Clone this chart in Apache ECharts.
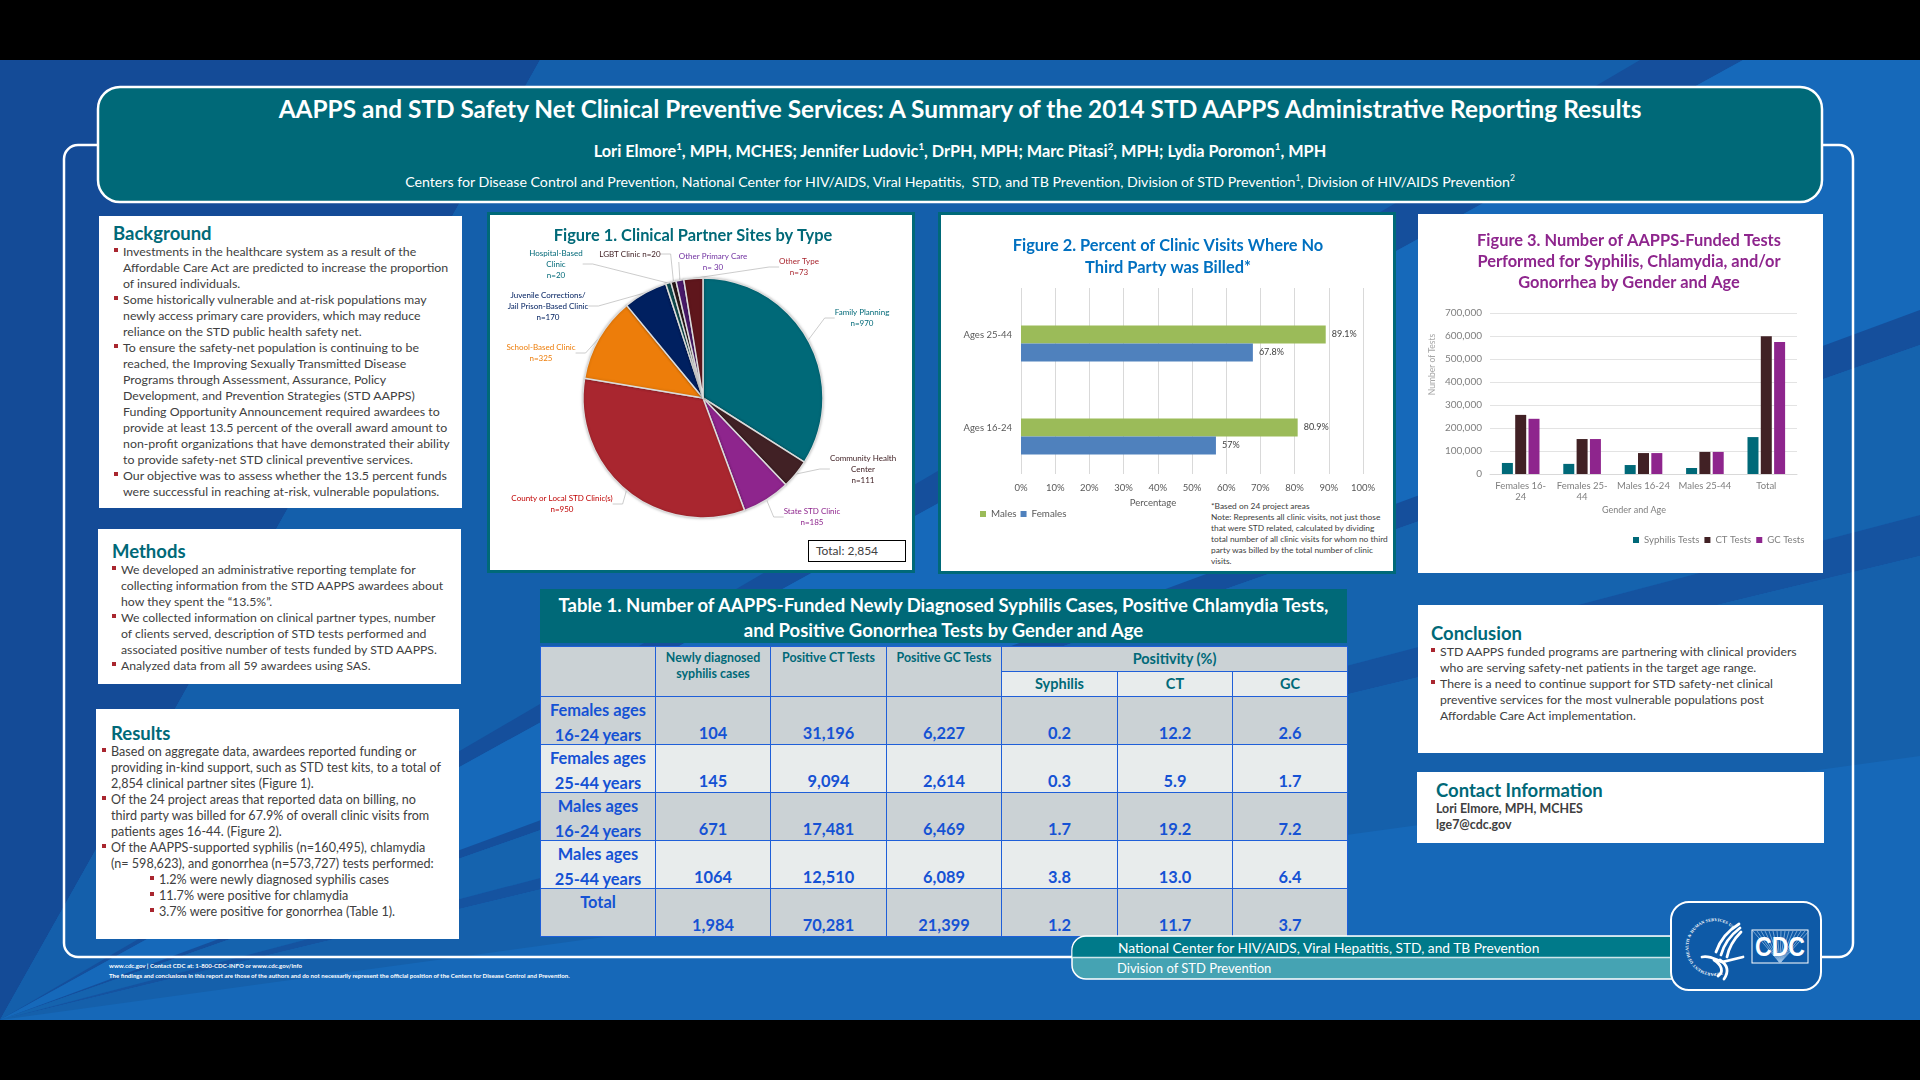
<!DOCTYPE html>
<html>
<head>
<meta charset="utf-8">
<title>AAPPS Poster</title>
<script src="https://cdn.jsdelivr.net/npm/echarts@6/dist/echarts.min.js"></script>
<style>
html,body { margin:0; padding:0; background:#000; width:1920px; height:1080px; overflow:hidden; font-family:Lato,sans-serif; }
#poster { position:absolute; left:0; top:0; width:1920px; height:1080px; }
#poster svg { position:absolute; left:0; top:0; }
.box { position:absolute; background:#fff; box-sizing:border-box; }
.fig { border:3px solid #006978; }
.txt { position:absolute; white-space:nowrap; line-height:16px; color:#404040; font-size:12.25px; transform:translateY(-50%); }
.head { position:absolute; white-space:nowrap; color:#006978; font-weight:700; font-size:18.5px; transform:translateY(-50%); }
.dot { position:absolute; width:4px; height:4px; background:#a9262f; }
.ctr { position:absolute; left:98px; width:1724px; text-align:center; color:#fff; white-space:nowrap; transform:translateY(-50%); }
sup { font-size:60%; line-height:0; }
#tableHead { position:absolute; left:540px; top:589px; width:807px; height:54px; background:#006978; color:#fff; font-weight:700; font-size:18.5px; line-height:25px; text-align:center; padding-top:4px; box-sizing:border-box; white-space:nowrap; }
#tbl { position:absolute; left:540px; top:646px; width:807px; border-collapse:collapse; table-layout:fixed; }
#tbl td { border:1px solid #1f5fd8; padding:0; text-align:center; color:#1552d4; font-weight:700; font-size:16.4px; height:47px; line-height:22px; vertical-align:bottom; overflow:hidden; }
#tbl td.hd { color:#006978; font-size:12.4px; line-height:16px; vertical-align:top; padding-top:3px; height:auto; }
#tbl td.sub { color:#006978; font-size:14.5px; line-height:24px; height:24px; vertical-align:middle; padding:0; }
#tbl td .lab { position:relative; top:1px; height:46px; line-height:24.5px; }
.band { position:absolute; color:#fff; white-space:nowrap; transform:translateY(-50%); }
#chart { position:absolute; left:0; top:0; width:1920px; height:1080px; }
</style>
</head>
<body>
<div id="poster">
	<svg width="1920" height="1080">
		<rect x="0" y="60" width="1920" height="960" fill="#1668b8"/>
		<polygon points="0,1020 0,60 540,60" fill="#144b97"/>
		<polygon points="0,1020 540,60 1743,60" fill="#145fab"/>
		<polygon points="0,1020 1640,60 1743,60" fill="#154f9c"/>
		<polygon points="0,1020 1743,60 1920,60 1920,310" fill="#1669ba"/>
		<polygon points="0,1020 1920,310 1920,345" fill="#154f9c"/>
		<polygon points="0,1020 1920,345 1920,515" fill="#1563ae"/>
		<polygon points="0,1020 1920,515 1920,556" fill="#1553a0"/>
		<polygon points="0,1020 1920,556 1920,756" fill="#1560ab"/>
		<rect x="64" y="145" width="1789" height="812" rx="14" fill="none" stroke="#fff" stroke-width="2.5"/>
		<rect x="98" y="87" width="1724" height="115" rx="22" fill="#006978" stroke="#fff" stroke-width="2.5"/>
	</svg>
	<div id="panels"></div>
	<div class="box fig" style="left:487px;top:212px;width:428px;height:361px"></div>
	<div class="box fig" style="left:938px;top:212px;width:458px;height:362px"></div>
	<div class="box" style="left:1418px;top:214px;width:405px;height:359px"></div>
	<div class="box" style="left:808px;top:540px;width:98px;height:22px;border:1.5px solid #000;font-size:12px;line-height:19px;color:#404040;padding-left:7px">Total: 2,854</div>
	<div id="figNote" style="position:absolute;left:1211px;top:501px;font-size:8.4px;line-height:11px;color:#404040;white-space:pre"></div>
	<div class="ctr" id="mainTitle" style="top:108px;font-size:24.4px;font-weight:700"></div>
	<div class="ctr" id="authors" style="top:150px;font-size:16.3px;font-weight:700"></div>
	<div class="ctr" id="affil" style="top:181px;font-size:14.2px"></div>
	<div id="tableHead"></div>
	<table id="tbl"></table>
	<svg width="1920" height="1080">
		<path d="M1685 936 H1086 a14 14 0 0 0 -14 14 V965 a14 14 0 0 0 14 14 H1685 Z" fill="#45a3b3" stroke="#fff" stroke-width="1.5"/>
		<path d="M1685 937 H1086 a13.500 13.500 0 0 0 -13.500 13.500 V957 H1685 Z" fill="#007a8a"/>
		<line x1="1072" y1="957.500" x2="1685" y2="957.500" stroke="#cfe6ea" stroke-width="1.5"/>
		<rect x="1671" y="902" width="150" height="88" rx="18" fill="#0e5aa7" stroke="#fff" stroke-width="2"/>
		<path id="seal" d="M1722 972 A26 26 0 1 1 1733 929" fill="none"/>
		<text font-family="Liberation Serif,serif" font-size="4.200" font-weight="700" fill="#fff"><textPath href="#seal" textLength="112" lengthAdjust="spacing">DEPARTMENT OF HEALTH &amp; HUMAN SERVICES USA</textPath></text>
		<g fill="none" stroke="#fff" stroke-width="2.800" stroke-linecap="round">
			<path d="M1739 924 C1729 930 1720 940 1716 952"/>
			<path d="M1740 928 C1732 934 1724 944 1721 955"/>
			<path d="M1741 932 C1735 938 1729 947 1727 957"/>
			<path d="M1702 957 C1710 955 1716 960 1722 962 L1743 957"/>
			<path d="M1714 960 C1722 965 1724 972 1718 976"/>
			<path d="M1720 960 C1728 965 1729 972 1724 979"/>
		</g>
		<rect x="1752" y="930" width="56" height="33" fill="#0e5aa7" stroke="#fff" stroke-width="1"/>
		<g stroke="#9fc3e6" stroke-width="0.700" id="rays"></g>
		<text x="1780" y="956" text-anchor="middle" textLength="50" lengthAdjust="spacingAndGlyphs" font-family="Liberation Sans,sans-serif" font-size="28" font-weight="700" fill="#fff">CDC</text>
	</svg>
	<div class="band" style="left:1118px;top:947px;font-size:13.75px">National Center for HIV/AIDS, Viral Hepatitis, STD, and TB Prevention</div>
	<div class="band" style="left:1117px;top:968px;font-size:13px">Division of STD Prevention</div>
	<div id="footer" style="position:absolute;left:109px;top:961px;color:#fff;font-size:6.1px;line-height:9.500px;font-weight:700;white-space:pre"></div>
	<div id="chart"></div>
</div>
<script>
// text for the poster
var titleText = 'AAPPS and STD Safety Net Clinical Preventive Services: A Summary of the 2014 STD AAPPS Administrative Reporting Results';
var authorsText = 'Lori Elmore<sup>1</sup>, MPH, MCHES; Jennifer Ludovic<sup>1</sup>, DrPH, MPH; Marc Pitasi<sup>2</sup>, MPH; Lydia Poromon<sup>1</sup>, MPH';
var affilText = 'Centers for Disease Control and Prevention, National Center for HIV/AIDS, Viral Hepatitis,&nbsp; STD, and TB Prevention, Division of STD Prevention<sup>1</sup>, Division of HIV/AIDS Prevention<sup>2</sup>';
var footerText = 'www.cdc.gov | Contact CDC at: 1-800-CDC-INFO or www.cdc.gov/info\nThe findings and conclusions in this report are those of the authors and do not necessarily represent the official position of the Centers for Disease Control and Prevention.';
var noteText = '*Based on 24 project areas\nNote: Represents all clinic visits, not just those\nthat were STD related, calculated by dividing\ntotal number of all clinic visits for whom no third\nparty was billed by the total number of clinic\nvisits.';

var backgroundLines = [
	['Investments in the healthcare system as a result of the', 'Affordable Care Act are predicted to increase the proportion', 'of insured individuals.'],
	['Some historically vulnerable and at-risk populations may', 'newly access primary care providers, which may reduce', 'reliance on the STD public health safety net.'],
	['To ensure the safety-net population is continuing to be', 'reached, the Improving Sexually Transmitted Disease', 'Programs through Assessment, Assurance, Policy', 'Development, and Prevention Strategies (STD AAPPS)', 'Funding Opportunity Announcement required awardees to', 'provide at least 13.5 percent of the overall award amount to', 'non-profit organizations that have demonstrated their ability', 'to provide safety-net STD clinical preventive services.'],
	['Our objective was to assess whether the 13.5 percent funds', 'were successful in reaching at-risk, vulnerable populations.']
];
var methodsLines = [
	['We developed an administrative reporting template for', 'collecting information from the STD AAPPS awardees about', 'how they spent the “13.5%”.'],
	['We collected information on clinical partner types, number', 'of clients served, description of STD tests performed and', 'associated positive number of tests funded by STD AAPPS.'],
	['Analyzed data from all 59 awardees using SAS.']
];
var resultsLines = [
	['Based on aggregate data, awardees reported funding or', 'providing in-kind support, such as STD test kits, to a total of', '2,854 clinical partner sites (Figure 1).'],
	['Of the 24 project areas that reported data on billing, no', 'third party was billed for 67.9% of overall clinic visits from', 'patients ages 16-44. (Figure 2).'],
	['Of the AAPPS-supported syphilis (n=160,495), chlamydia', '(n= 598,623), and gonorrhea (n=573,727) tests performed:']
];
var resultsSubLines = [
	['1.2% were newly diagnosed syphilis cases'],
	['11.7% were positive for chlamydia'],
	['3.7% were positive for gonorrhea (Table 1).']
];
var conclusionLines = [
	['STD AAPPS funded programs are partnering with clinical providers', 'who are serving safety-net patients in the target age range.'],
	['There is a need to continue support for STD safety-net clinical', 'preventive services for the most vulnerable populations post', 'Affordable Care Act implementation.']
];
var contactLines = ['Lori Elmore, MPH, MCHES', 'lge7@cdc.gov'];

// table 1
var tableTitle = 'Table 1. Number of AAPPS-Funded Newly Diagnosed Syphilis Cases, Positive Chlamydia Tests,<br>and Positive Gonorrhea Tests by Gender and Age';
var tableHeads = ['', 'Newly diagnosed<br>syphilis cases', 'Positive CT Tests', 'Positive GC Tests'];
var tableSubHeads = ['Syphilis', 'CT', 'GC'];
var tableRowNames = ['Females ages<br>16-24 years', 'Females ages<br>25-44 years', 'Males ages<br>16-24 years', 'Males ages<br>25-44 years', 'Total'];
var tableSyphilis = ['104', '145', '671', '1064', '1,984'];
var tableCT = ['31,196', '9,094', '17,481', '12,510', '70,281'];
var tableGC = ['6,227', '2,614', '6,469', '6,089', '21,399'];
var tablePosSyphilis = ['0.2', '0.3', '1.7', '3.8', '1.2'];
var tablePosCT = ['12.2', '5.9', '19.2', '13.0', '11.7'];
var tablePosGC = ['2.6', '1.7', '7.2', '6.4', '3.7'];

// figure 1
var siteLabels = ['Family Planning\nn=970', 'Community Health\nCenter\nn=111', 'State STD Clinic\nn=185', 'County or Local STD Clinic(s)\nn=950', 'School-Based Clinic\nn=325', 'Juvenile Corrections/\nJail Prison-Based Clinic\nn=170', 'Hospital-Based\nClinic\nn=20', 'LGBT Clinic n=20', 'Other Primary Care\nn= 30', 'Other Type\nn=73'];
var siteCounts = [970, 111, 185, 950, 325, 170, 20, 20, 30, 73];

// figure 2
var ageGroups = ['Ages 25-44', 'Ages 16-24'];
var malesPct = [89.1, 80.9];
var femalesPct = [67.8, 57];
var emptySlot = [null, null]; // the source chart keeps an empty slot above the two bars

// figure 3
var testGroups = ['Females 16-\n24', 'Females 25-\n44', 'Males 16-24', 'Males 25-44', 'Total'];
var syphilisTests = [48000, 44000, 39000, 26000, 160495];
var ctTests = [257000, 152000, 91000, 96000, 598623];
var gcTests = [240000, 152000, 91000, 96000, 573727];

// where the pie labels sit
var siteLabelX = [862, 863, 812, 562, 541, 548, 556, 630, 713, 799];
var siteLabelY = [318, 469, 517, 504, 353, 306, 264, 254, 262, 267];
var siteColors = ['#006978', '#412125', '#8e258d', '#a9262f', '#ed7d0a', '#002060', '#0f4f52', '#2a1a1a', '#4a1a6b', '#5f161c'];
var siteLabelColors = ['#006978', '#412125', '#8e258d', '#c00000', '#ed7d0a', '#002060', '#006978', '#412125', '#7030a0', '#a9262f'];

function el(tag, cls, css, html) {
	var d = document.createElement(tag);
	if (cls) d.className = cls;
	if (css) d.style.cssText = css;
	if (html !== undefined) d.innerHTML = html;
	return d;
}

// one white panel with a heading and bullet lines
function addPanel(host, box, heading, groups, textX, dotX, firstY, fontSize) {
	if (box) host.appendChild(el('div', 'box', 'left:' + box[0] + 'px;top:' + box[1] + 'px;width:' + box[2] + 'px;height:' + box[3] + 'px'));
	if (heading) host.appendChild(el('div', 'head', 'left:' + heading[1] + 'px;top:' + heading[2] + 'px', heading[0]));
	var y = firstY;
	groups.forEach(function(lines) {
		host.appendChild(el('div', 'dot', 'left:' + dotX + 'px;top:' + (y - 4) + 'px'));
		lines.forEach(function(line) {
			host.appendChild(el('div', 'txt', 'left:' + textX + 'px;top:' + y + 'px;font-size:' + (fontSize || 12.25) + 'px', line));
			y += 16;
		});
	});
	return y;
}

function buildText() {
	var host = document.getElementById('panels');
	addPanel(host, [99, 216, 363, 292], ['Background', 113, 233], backgroundLines, 123, 114, 252, 12.35);
	addPanel(host, [98, 529, 363, 155], ['Methods', 112, 551], methodsLines, 121, 112, 570, 12.25);
	var y = addPanel(host, [96, 709, 363, 230], ['Results', 111, 733], resultsLines, 111, 102, 752, 12.6);
	addPanel(host, null, null, resultsSubLines, 159, 150, y, 12.6);
	addPanel(host, [1418, 605, 405, 148], ['Conclusion', 1431, 633], conclusionLines, 1440, 1431, 652, 12.25);
	host.appendChild(el('div', 'box', 'left:1417px;top:772px;width:407px;height:71px'));
	host.appendChild(el('div', 'head', 'left:1436px;top:790px', 'Contact Information'));
	contactLines.forEach(function(line, i) {
		host.appendChild(el('div', 'txt', 'left:1436px;top:' + (809 + i * 16) + 'px;font-weight:700;font-size:12.4px', line));
	});
	document.getElementById('mainTitle').innerHTML = titleText;
	document.getElementById('authors').innerHTML = authorsText;
	document.getElementById('affil').innerHTML = affilText;
	document.getElementById('footer').textContent = footerText;
	document.getElementById('figNote').textContent = noteText;
	document.getElementById('tableHead').innerHTML = tableTitle;
}

function buildTable() {
	var dark = '#cbd2d5', light = '#e8ecec';
	var html = '<colgroup><col style="width:115px"><col style="width:115px"><col style="width:116px"><col style="width:115px"><col style="width:116px"><col style="width:115px"><col style="width:115px"></colgroup>';
	html += '<tr>';
	tableHeads.forEach(function(h) {
		html += '<td class="hd" rowspan="2" style="background:' + dark + '">' + h + '</td>';
	});
	html += '<td class="sub" colspan="3" style="background:' + dark + '">Positivity (%)</td></tr><tr>';
	tableSubHeads.forEach(function(h) {
		html += '<td class="sub" style="background:' + light + '">' + h + '</td>';
	});
	html += '</tr>';
	tableRowNames.forEach(function(name, i) {
		var bg = i % 2 == 0 ? dark : light;
		var cells = [tableSyphilis[i], tableCT[i], tableGC[i], tablePosSyphilis[i], tablePosCT[i], tablePosGC[i]];
		html += '<tr><td style="background:' + bg + ';vertical-align:top"><div class="lab">' + name + '</div></td>';
		cells.forEach(function(c) {
			html += '<td style="background:' + bg + '">' + c + '</td>';
		});
		html += '</tr>';
	});
	document.getElementById('tbl').innerHTML = html;
}

function buildRays() {
	var g = document.getElementById('rays'), out = '';
	for (var i = 0; i <= 14; i++) {
		var x = 1753 + i * 4;
		out += '<line x1="1780" y1="963" x2="' + x + '" y2="931"/>';
	}
	g.innerHTML = out;
}

function renderCharts() {
	var font = 'Lato, sans-serif';
	var pieData = siteCounts.map(function(v, i) {
		return {
			name: siteLabels[i],
			value: v,
			itemStyle: { color: siteColors[i] },
			label: { color: siteLabelColors[i] }
		};
	});
	var option = {
		animation: false,
		textStyle: { fontFamily: font },
		title: [
			{ text: 'Figure 1. Clinical Partner Sites by Type', left: 693, top: 228, padding: 0, textAlign: 'center', textStyle: { color: '#006978', fontSize: 16.4, fontWeight: 700, fontFamily: font } },
			{ text: 'Figure 2. Percent of Clinic Visits Where No\nThird Party was Billed*', left: 1168, top: 235, padding: 0, textAlign: 'center', textStyle: { color: '#0070c0', fontSize: 16.4, fontWeight: 700, lineHeight: 22, fontFamily: font } },
			{ text: 'Figure 3. Number of AAPPS-Funded Tests\nPerformed for Syphilis, Chlamydia, and/or\nGonorrhea by Gender and Age', left: 1629, top: 230, padding: 0, textAlign: 'center', textStyle: { color: '#8e258d', fontSize: 16.4, fontWeight: 700, lineHeight: 21, fontFamily: font } }
		],
		legend: [
			{ data: ['Males', 'Females'], left: 980, top: 509, padding: 0, itemWidth: 6, itemHeight: 6, itemGap: 4, icon: 'rect', textStyle: { color: '#595959', fontSize: 9.8, fontFamily: font } },
			{ data: ['Syphilis Tests', 'CT Tests', 'GC Tests'], left: 1633, top: 535, padding: 0, itemWidth: 6, itemHeight: 6, itemGap: 5, icon: 'rect', textStyle: { color: '#7f7f7f', fontSize: 9.6, fontFamily: font } }
		],
		grid: [
			{ left: 1021, top: 288, width: 342, height: 186 },
			{ left: 1490, top: 313, width: 307, height: 161 }
		],
		xAxis: [
			{
				type: 'value', gridIndex: 0, min: 0, max: 100, interval: 10,
				name: 'Percentage', nameLocation: 'middle', nameGap: 24,
				nameTextStyle: { color: '#595959', fontSize: 9.5, fontFamily: font, padding: [0, 78, 0, 0] },
				axisLabel: { color: '#595959', fontSize: 9.5, margin: 9, formatter: '{value}%', fontFamily: font },
				axisLine: { show: false }, axisTick: { show: false },
				splitLine: { lineStyle: { color: '#d9d9d9', width: 1 } }
			},
			{
				type: 'category', gridIndex: 1, data: testGroups,
				name: 'Gender and Age', nameLocation: 'middle', nameGap: 32,
				nameTextStyle: { color: '#7f7f7f', fontSize: 9, fontFamily: font, padding: [0, 19, 0, 0] },
				axisLabel: { color: '#7f7f7f', fontSize: 9.5, margin: 6, interval: 0, lineHeight: 11, fontFamily: font },
				axisLine: { lineStyle: { color: '#d9d9d9' } }, axisTick: { show: false }
			}
		],
		yAxis: [
			{
				type: 'category', gridIndex: 0, data: ageGroups, inverse: true,
				axisLabel: { color: '#595959', fontSize: 9.5, margin: 9, fontFamily: font },
				axisLine: { show: false }, axisTick: { show: false }
			},
			{
				type: 'value', gridIndex: 1, min: 0, max: 700000, interval: 100000,
				name: 'Number of Tests', nameLocation: 'middle', nameGap: 53, nameRotate: 90,
				nameTextStyle: { color: '#a6a6a6', fontSize: 8.5, fontFamily: font, padding: [0, 0, 0, 58] },
				axisLabel: { color: '#7f7f7f', fontSize: 10, margin: 8, fontFamily: font },
				axisLine: { show: false }, axisTick: { show: false },
				splitLine: { lineStyle: { color: '#e3e3e3', width: 1 } }
			}
		],
		series: [
			{
				type: 'pie', center: [703, 398], radius: 120, startAngle: 90, clockwise: true,
				avoidLabelOverlap: false, data: pieData,
				itemStyle: { borderColor: '#dcdcdc', borderWidth: 1.5, shadowBlur: 3, shadowColor: 'rgba(0,0,0,0.2)' },
				label: { show: true, position: 'outside', fontSize: 8, lineHeight: 11, fontFamily: font, formatter: '{b}' },
				labelLine: { show: true, length: 12, length2: 10, lineStyle: { color: '#bfbfbf', width: 0.8 } },
				labelLayout: function(p) {
					return { x: siteLabelX[p.dataIndex], y: siteLabelY[p.dataIndex], align: 'center', verticalAlign: 'middle' };
				}
			},
			{ name: 'spacer', type: 'bar', xAxisIndex: 0, yAxisIndex: 0, data: emptySlot, barWidth: 18, barGap: '0%', silent: true },
			{
				name: 'Males', type: 'bar', xAxisIndex: 0, yAxisIndex: 0, data: malesPct, barWidth: 18, barGap: '0%',
				itemStyle: { color: '#9bbb59' },
				label: { show: true, position: 'right', distance: 6, color: '#404040', fontSize: 9, formatter: '{c}%', fontFamily: font }
			},
			{
				name: 'Females', type: 'bar', xAxisIndex: 0, yAxisIndex: 0, data: femalesPct, barWidth: 18, barGap: '0%',
				itemStyle: { color: '#4f81bd' },
				label: { show: true, position: 'right', distance: 6, color: '#404040', fontSize: 9, formatter: '{c}%', fontFamily: font }
			},
			{ name: 'Syphilis Tests', type: 'bar', xAxisIndex: 1, yAxisIndex: 1, data: syphilisTests, barWidth: 11, barGap: '21%', itemStyle: { color: '#006978' } },
			{ name: 'CT Tests', type: 'bar', xAxisIndex: 1, yAxisIndex: 1, data: ctTests, barWidth: 11, barGap: '21%', itemStyle: { color: '#412125' } },
			{ name: 'GC Tests', type: 'bar', xAxisIndex: 1, yAxisIndex: 1, data: gcTests, barWidth: 11, barGap: '21%', itemStyle: { color: '#8e258d' } }
		]
	};
	var chart = echarts.init(document.getElementById('chart'), null, { renderer: 'canvas' });
	chart.setOption(option);
}

buildText();
buildTable();
buildRays();
renderCharts();
</script>
</body>
</html>
